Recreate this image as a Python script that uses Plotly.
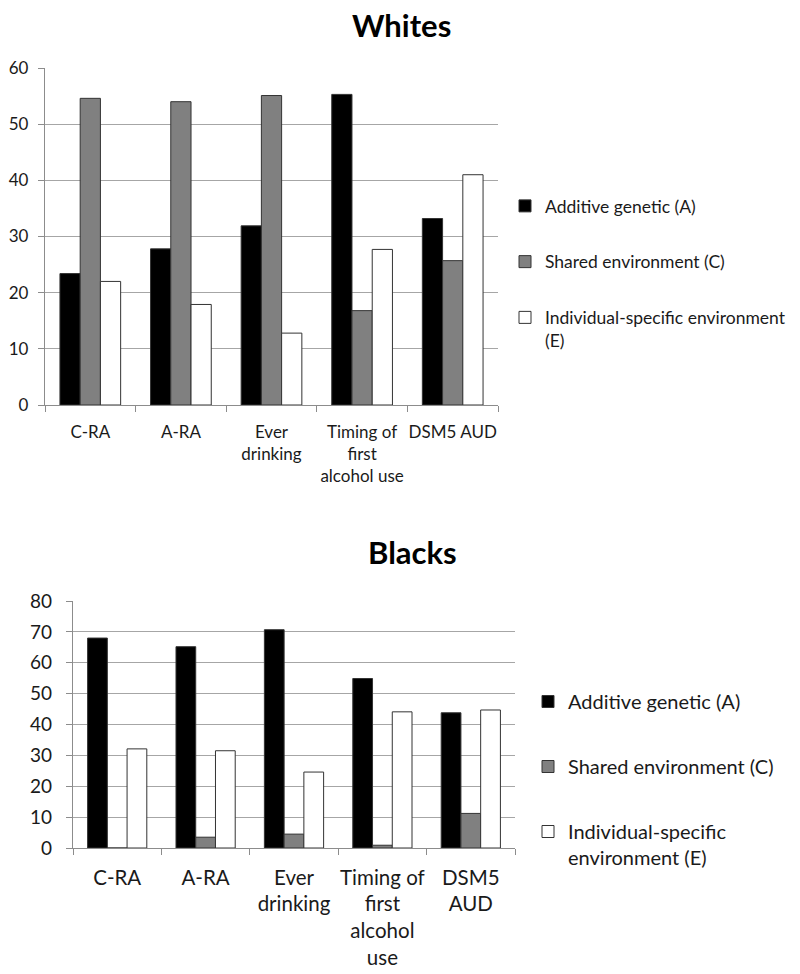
import plotly.graph_objects as go

# ---- data ----
categories_w = ["C-RA", "A-RA", "Ever<br>drinking", "Timing of<br>first<br>alcohol use", "DSM5 AUD"]
categories_b = ["C-RA", "A-RA", "Ever<br>drinking", "Timing of<br>first<br>alcohol<br>use", "DSM5<br>AUD"]

whites_A = [23.4, 27.8, 31.9, 55.3, 33.2]
whites_C = [54.6, 54.0, 55.1, 16.8, 25.7]
whites_E = [22.0, 17.9, 12.8, 27.7, 41.0]

blacks_A = [68.0, 65.2, 70.7, 54.9, 43.8]
blacks_C = [0.0, 3.5, 4.5, 0.9, 11.2]
blacks_E = [32.1, 31.5, 24.6, 44.1, 44.7]

series_names_w = ["Additive genetic (A)", "Shared environment (C)",
                  "Individual-specific environment<br>(E)"]
series_names_b = ["Additive genetic (A)", "Shared environment (C)",
                  "Individual-specific<br>environment (E)"]
colors = ["#000000", "#808080", "#ffffff"]

FONT = "Lato"
W, H = 800, 974
OFF = 0  # page body margin removed via post_script

fig = go.Figure()

for vals, name, col, grp in zip([whites_A, whites_C, whites_E], series_names_w, colors, ["a", "c", "e"]):
    fig.add_trace(go.Bar(x=categories_w, y=vals, name=name, xaxis="x", yaxis="y",
                         marker=dict(color=col, line=dict(color="#333333", width=1)),
                         legend="legend", legendgroup=grp))

for vals, name, col, grp in zip([blacks_A, blacks_C, blacks_E], series_names_b, colors, ["a2", "c2", "e2"]):
    fig.add_trace(go.Bar(x=categories_b, y=vals, name=name, xaxis="x2", yaxis="y2",
                         marker=dict(color=col, line=dict(color="#333333", width=1)),
                         legend="legend2", legendgroup=grp))

def px_x(p):
    return (p - OFF) / W

def px_y(p):
    return 1 - (p - OFF) / H

axis_common = dict(showline=True, linecolor="#8c8c8c", linewidth=1.3, automargin=False)

fig.update_layout(
    width=W, height=H,
    margin=dict(l=0, r=0, t=0, b=0, autoexpand=False),
    paper_bgcolor="white", plot_bgcolor="white",
    font=dict(family=FONT, color="#1a1a1a"),
    barmode="group", bargap=0.33, bargroupgap=0,
    xaxis=dict(domain=[px_x(45), px_x(498)], anchor="y", type="category",
               tickson="boundaries", ticks="outside", ticklen=6, tickcolor="#8c8c8c",
               tickangle=0, tickfont=dict(size=17), ticklabelstandoff=11, showgrid=False,
               **axis_common),
    yaxis=dict(domain=[px_y(405), px_y(68)], anchor="x", range=[0, 60], dtick=10,
               ticks="outside", ticklen=6, tickcolor="#8c8c8c",
               showgrid=True, gridcolor="#a6a6a6", gridwidth=1.2,
               tickfont=dict(size=17), ticklabelstandoff=6, zeroline=False, **axis_common),
    xaxis2=dict(domain=[px_x(73), px_x(515)], anchor="y2", type="category",
                tickson="boundaries", ticks="outside", ticklen=6, tickcolor="#8c8c8c",
                tickangle=0, tickfont=dict(size=20.5), ticklabelstandoff=11, showgrid=False,
                **axis_common),
    yaxis2=dict(domain=[px_y(848), px_y(601)], anchor="x2", range=[0, 80], dtick=10,
                ticks="outside", ticklen=6, tickcolor="#8c8c8c",
                showgrid=True, gridcolor="#a6a6a6", gridwidth=1.2,
                tickfont=dict(size=19), ticklabelstandoff=10, zeroline=False, **axis_common),
    legend=dict(x=px_x(505), y=px_y(188), xanchor="left", yanchor="top",
                font=dict(size=17.5, family=FONT), tracegroupgap=30, valign="top",
                bgcolor="rgba(0,0,0,0)", itemclick=False),
    legend2=dict(x=px_x(528), y=px_y(682), xanchor="left", yanchor="top",
                 font=dict(size=20, family=FONT), tracegroupgap=36, valign="top",
                 bgcolor="rgba(0,0,0,0)", itemclick=False),
    annotations=[
        dict(text="<b>Whites</b>", x=px_x(401), y=px_y(25), xref="paper", yref="paper",
             xanchor="center", yanchor="middle", showarrow=False,
             font=dict(size=31, family=FONT, color="#000000")),
        dict(text="<b>Blacks</b>", x=px_x(412), y=px_y(552), xref="paper", yref="paper",
             xanchor="center", yanchor="middle", showarrow=False,
             font=dict(size=31, family=FONT, color="#000000")),
    ],
)

fig.write_html("out.html", config={"displayModeBar": False},
               post_script="document.body.style.margin='0px'; document.body.style.padding='0px';")
